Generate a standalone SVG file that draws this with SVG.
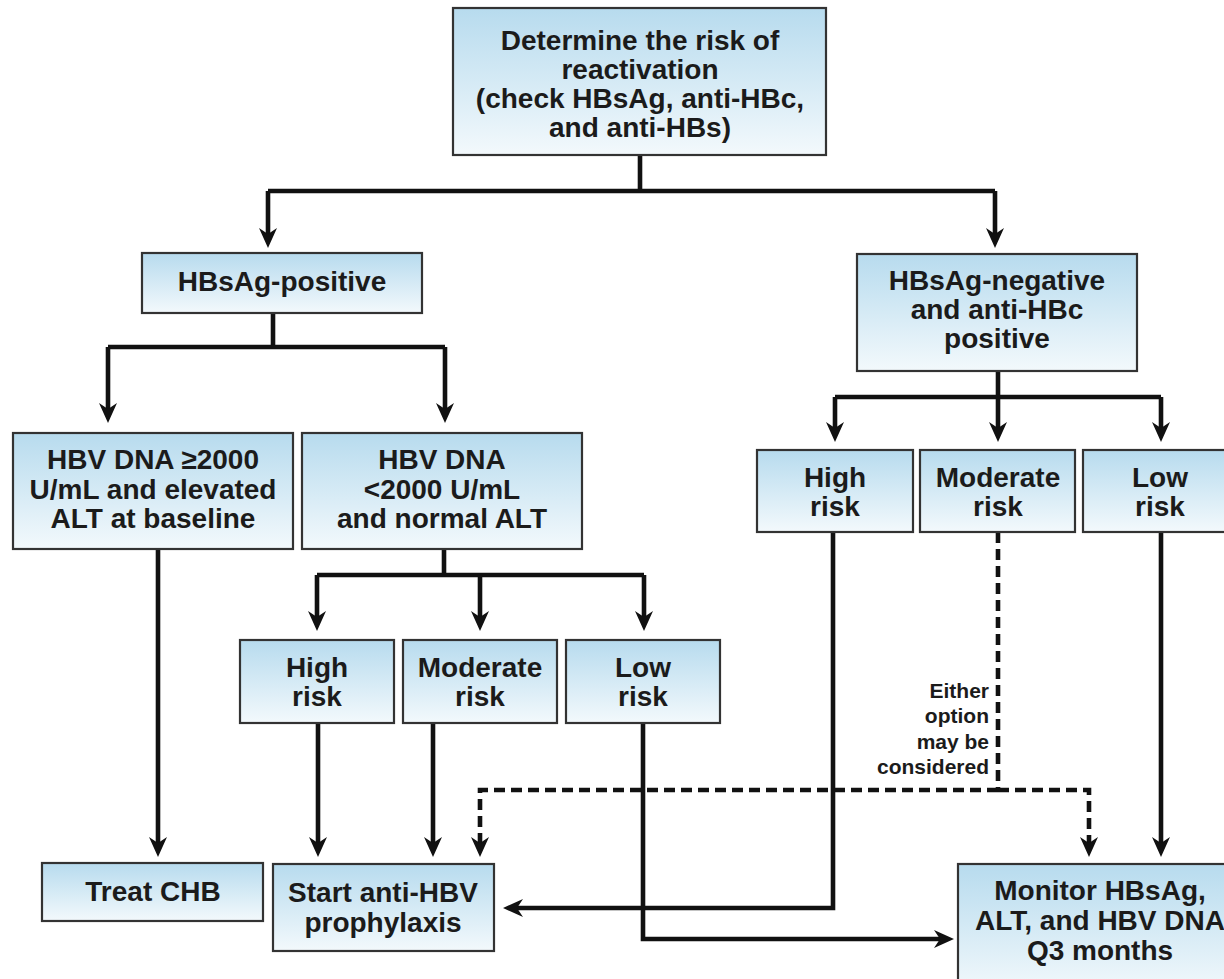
<svg xmlns="http://www.w3.org/2000/svg" width="1224" height="979" viewBox="0 0 1224 979">
<defs>
<linearGradient id="boxfill" x1="0" y1="0" x2="0" y2="1">
<stop offset="0" stop-color="#b7dbee"/>
<stop offset="1" stop-color="#f3f9fc"/>
</linearGradient>
<marker id="arr" viewBox="0 0 20 18" refX="8" refY="9" markerWidth="20" markerHeight="18" markerUnits="userSpaceOnUse" orient="auto">
<path d="M0,0 L20,9 L0,18 L6,9 Z" fill="#111"/>
</marker>
</defs>
<style>
.box{fill:url(#boxfill);stroke:#333;stroke-width:2.2}
.t{font-family:"Liberation Sans",Arial,sans-serif;font-weight:bold;font-size:28px;fill:#1b1b1b;text-anchor:middle}
.s{font-family:"Liberation Sans",Arial,sans-serif;font-weight:bold;font-size:21px;fill:#1b1b1b;text-anchor:end}
.ln{fill:none;stroke:#111;stroke-width:4.6;stroke-linejoin:miter}
.dl{fill:none;stroke:#111;stroke-width:4.6;stroke-dasharray:11 6}
.a{marker-end:url(#arr)}
</style>
<rect width="1224" height="979" fill="#fff"/>
<g id="connectors">
<path class="ln" d="M640,155 V191"/>
<path class="ln" d="M268,191 H995"/>
<path class="ln a" d="M268,191 V236"/>
<path class="ln a" d="M995,191 V236"/>
<path class="ln" d="M273,313 V347"/>
<path class="ln" d="M108,347 H445"/>
<path class="ln a" d="M108,347 V411"/>
<path class="ln a" d="M445,347 V411"/>
<path class="ln a" d="M158,549 V845"/>
<path class="ln" d="M444,549 V575"/>
<path class="ln" d="M317,575 H644"/>
<path class="ln a" d="M317,575 V619"/>
<path class="ln a" d="M480,575 V619"/>
<path class="ln a" d="M644,575 V619"/>
<path class="ln a" d="M318,723 V845"/>
<path class="ln a" d="M433,723 V845"/>
<path class="ln" d="M998,371 V397"/>
<path class="ln" d="M835,397 H1161"/>
<path class="ln a" d="M835,397 V430"/>
<path class="ln a" d="M998,397 V430"/>
<path class="ln a" d="M1161,397 V430"/>
<path class="ln a" d="M1161,532 V845"/>
<path class="ln a" d="M833,532 V908 H515"/>
<path class="ln a" d="M643,723 V939 H942"/>
<path class="dl" d="M998,532 V790"/>
<path class="dl a" d="M998,790 H480 V845"/>
<path class="dl a" d="M998,790 H1089 V845"/>
</g>
<g id="n-top">
<rect class="box" x="453" y="8" width="373" height="147"/>
<text class="t" x="640" y="50">Determine the risk of</text>
<text class="t" x="640" y="79">reactivation</text>
<text class="t" x="640" y="108">(check HBsAg, anti-HBc,</text>
<text class="t" x="640" y="137">and anti-HBs)</text>
</g>
<g id="n-pos">
<rect class="box" x="142" y="253" width="280" height="60"/>
<text class="t" x="282" y="291">HBsAg-positive</text>
</g>
<g id="n-neg">
<rect class="box" x="857" y="254" width="280" height="117"/>
<text class="t" x="997" y="290">HBsAg-negative</text>
<text class="t" x="997" y="319">and anti-HBc</text>
<text class="t" x="997" y="348">positive</text>
</g>
<g id="n-high-dna">
<rect class="box" x="13" y="433" width="280" height="116"/>
<text class="t" x="153" y="469">HBV DNA ≥2000</text>
<text class="t" x="153" y="499">U/mL and elevated</text>
<text class="t" x="153" y="528">ALT at baseline</text>
</g>
<g id="n-low-dna">
<rect class="box" x="302" y="433" width="280" height="116"/>
<text class="t" x="442" y="469">HBV DNA</text>
<text class="t" x="442" y="499">&lt;2000 U/mL</text>
<text class="t" x="442" y="528">and normal ALT</text>
</g>
<g id="n-l-high">
<rect class="box" x="240" y="640" width="154" height="83"/>
<text class="t" x="317" y="677">High</text>
<text class="t" x="317" y="706">risk</text>
</g>
<g id="n-l-mod">
<rect class="box" x="403" y="640" width="154" height="83"/>
<text class="t" x="480" y="677">Moderate</text>
<text class="t" x="480" y="706">risk</text>
</g>
<g id="n-l-low">
<rect class="box" x="566" y="640" width="154" height="83"/>
<text class="t" x="643" y="677">Low</text>
<text class="t" x="643" y="706">risk</text>
</g>
<g id="n-r-high">
<rect class="box" x="757" y="450" width="156" height="82"/>
<text class="t" x="835" y="487">High</text>
<text class="t" x="835" y="516">risk</text>
</g>
<g id="n-r-mod">
<rect class="box" x="920" y="450" width="155" height="82"/>
<text class="t" x="998" y="487">Moderate</text>
<text class="t" x="998" y="516">risk</text>
</g>
<g id="n-r-low">
<rect class="box" x="1083" y="450" width="160" height="82"/>
<text class="t" x="1160" y="487">Low</text>
<text class="t" x="1160" y="516">risk</text>
</g>
<g id="n-treat">
<rect class="box" x="42" y="863" width="221" height="58"/>
<text class="t" x="153" y="901">Treat CHB</text>
</g>
<g id="n-start">
<rect class="box" x="273" y="864" width="221" height="87"/>
<text class="t" x="383" y="902">Start anti-HBV</text>
<text class="t" x="383" y="932">prophylaxis</text>
</g>
<g id="n-monitor">
<rect class="box" x="958" y="864" width="290" height="130"/>
<text class="t" x="1100" y="900">Monitor HBsAg,</text>
<text class="t" x="1100" y="930">ALT, and HBV DNA</text>
<text class="t" x="1100" y="960">Q3 months</text>
</g>
<g id="label-either">
<text class="s" x="989" y="698">Either</text>
<text class="s" x="989" y="723">option</text>
<text class="s" x="989" y="749">may be</text>
<text class="s" x="989" y="774">considered</text>
</g>
</svg>
